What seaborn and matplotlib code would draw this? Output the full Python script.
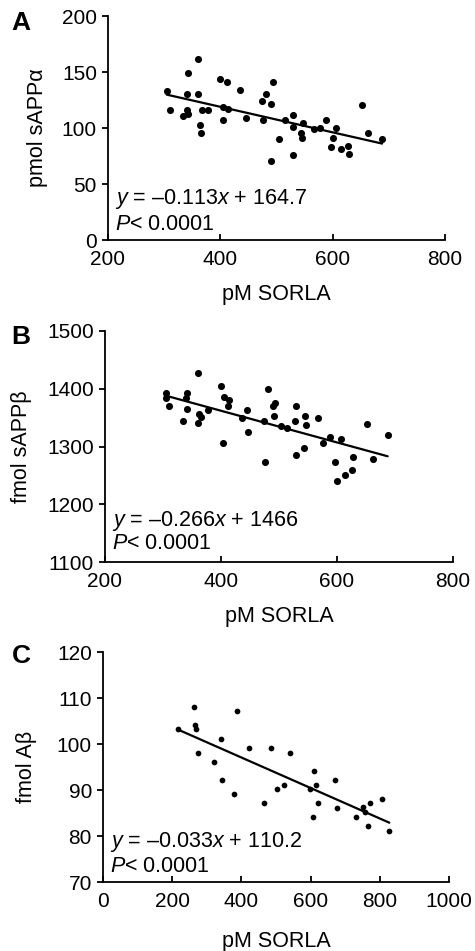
import matplotlib
matplotlib.use("Agg")
import matplotlib.pyplot as plt
import seaborn as sns
import pandas as pd

# ---- data ----
sorla_a = [304.5, 310, 343, 360, 340, 360, 341, 334, 342, 367, 378.5, 364, 365,
           399, 411, 435, 405, 414, 405, 446, 493, 481, 475, 490, 476.5, 504, 491,
           529, 515, 530, 546.5, 543.6, 545, 529, 567, 577, 587.5, 606, 601, 597,
           615, 627, 629, 651.7, 663, 688]
sappa = [132.6, 116.5, 149.5, 161.7, 130.5, 130.5, 115.7, 110.3, 112.7, 116.5, 115.7,
         102.3, 95.5, 143.5, 141.5, 134.3, 118.6, 117.2, 106.8, 109.2, 141.5, 130.5,
         123.7, 121.6, 106.8, 90.5, 70.6, 111.5, 107.4, 100.8, 104.7, 95.5, 91.4, 75.6,
         98.8, 99.9, 107.4, 99.6, 91.4, 83.4, 81.6, 83.6, 76.5, 120.7, 95.5, 90.5]

sorla_b = [304.7, 304.7, 311, 342, 339.7, 342, 335, 359.8, 362.6, 365, 360.9, 378,
           399.5, 405.7, 414.3, 411.6, 404, 444, 435.7, 447, 480.5, 493, 490, 491.4,
           474.7, 476.4, 503.4, 514.3, 529.3, 528, 544.8, 546.5, 567, 528.8, 543.6,
           576.4, 588, 606.4, 596.6, 600, 614.3, 626.4, 628, 651, 662.6, 687.4]
sappb = [1391.9, 1383.3, 1369.5, 1392.6, 1383.3, 1365, 1344.8, 1428, 1356.4, 1350.5,
         1340.2, 1363.8, 1405.2, 1385, 1380.5, 1370.2, 1306.4, 1363.8, 1348.8, 1325.9,
         1398.8, 1375.3, 1370.7, 1352.2, 1344.3, 1272.9, 1335.7, 1331.6, 1370.2, 1344.3,
         1352.2, 1337.4, 1350, 1284.5, 1297.8, 1306.9, 1317.2, 1313.3, 1273.6, 1240.9,
         1250.5, 1258.6, 1282.2, 1339.7, 1278.8, 1320.7]

sorla_c = [215.9, 263, 266, 268, 275.4, 341, 388, 321.7, 343, 377.7, 422, 485.5,
           539.6, 465.3, 502, 524, 610.7, 615.6, 598.3, 670.5, 622.3, 606, 675.4,
           732, 750.6, 758, 771.7, 806.4, 765, 827.5]
abeta = [103.2, 108.1, 104.1, 103.2, 98.1, 101.1, 107.2, 96.1, 92.1, 89.1, 99.1, 99.1,
         98.1, 87.1, 90.2, 91.1, 94.1, 91.1, 90.2, 92.1, 87.1, 84.1, 86.1, 84.1, 86.2,
         85.2, 87.1, 88.1, 82.1, 81.1]

panel_letters = ["A", "B", "C"]
ylabels = ["pmol sAPP\u03b1", "fmol sAPP\u03b2", "fmol A\u03b2"]
xlabel = "pM SORLA"
equations = ["$y$ = \u20130.113$x$ + 164.7", "$y$ = \u20130.266$x$ + 1466",
             "$y$ = \u20130.033$x$ + 110.2"]
ptext = "$P$< 0.0001"
xlims = [(200, 800), (200, 800), (0, 1000)]
xticks = [[200, 400, 600, 800], [200, 400, 600, 800], [0, 200, 400, 600, 800, 1000]]
ylims = [(0, 200), (1100, 1500), (70, 120)]
yticks = [[0, 50, 100, 150, 200], [1100, 1200, 1300, 1400, 1500],
          [70, 80, 90, 100, 110, 120]]

sns.set_theme(style="ticks")
plt.rcParams["font.family"] = ["Liberation Sans", "DejaVu Sans"]
plt.rcParams["mathtext.fontset"] = "custom"
plt.rcParams["mathtext.rm"] = "Liberation Sans"
plt.rcParams["mathtext.it"] = "Liberation Sans:italic"
for k in ["text.color", "axes.labelcolor", "xtick.color", "ytick.color",
          "xtick.labelcolor", "ytick.labelcolor", "axes.edgecolor"]:
    plt.rcParams[k] = "black"

fig = plt.figure(figsize=(4.75, 9.51), dpi=100)
W, H = 475, 951
# axes boxes in pixels: left, right, top, bottom
boxes = [(108, 445, 16, 240), (105, 453, 331, 562), (103, 449, 652, 882)]
ylab_x = [-0.178, -0.21, -0.191]
xlab_y = [-0.195, -0.19, -0.215]
txt_y = [(0.16, 0.045), (0.156, 0.056), (0.153, 0.045)]
letter_pos = [(21, 23), (21, 337), (21, 656)]
marker_s = [26, 26, 17]
fs_tick, fs_lab, fs_txt = 15, 15.5, 15.5

frames = [pd.DataFrame({"x": sorla_a, "y": sappa}),
          pd.DataFrame({"x": sorla_b, "y": sappb}),
          pd.DataFrame({"x": sorla_c, "y": abeta})]

for i, df in enumerate(frames):
    l, r, t, b = boxes[i]
    ax = fig.add_axes([l / W, 1 - b / H, (r - l) / W, (b - t) / H])
    sns.regplot(data=df, x="x", y="y", ax=ax, ci=None, color="black",
                scatter_kws={"s": marker_s[i], "linewidths": 0, "alpha": 1},
                line_kws={"lw": 1.6, "color": "black"})
    ax.set_xlim(*xlims[i])
    ax.set_ylim(*ylims[i])
    ax.set_xticks(xticks[i])
    ax.set_yticks(yticks[i])
    for s in ["top", "right"]:
        ax.spines[s].set_visible(False)
    for s in ["left", "bottom"]:
        ax.spines[s].set_linewidth(1.3)
        ax.spines[s].set_color("black")
    ax.tick_params(axis="x", direction="in", length=4, width=1.3, labelsize=fs_tick,
                   pad=7, colors="black")
    ax.tick_params(axis="y", direction="out", length=4, width=1.3, labelsize=fs_tick,
                   pad=4, colors="black")
    ax.set_xlabel(xlabel, fontsize=fs_lab, va="top", color="black")
    ax.set_ylabel(ylabels[i], fontsize=fs_lab, color="black")
    ax.xaxis.set_label_coords(0.5, xlab_y[i])
    ax.yaxis.set_label_coords(ylab_x[i], 0.5)
    ax.text(0.02, txt_y[i][0], equations[i], transform=ax.transAxes,
            fontsize=fs_txt, va="baseline", ha="left", color="black")
    ax.text(0.02, txt_y[i][1], ptext, transform=ax.transAxes,
            fontsize=fs_txt, va="baseline", ha="left", color="black")
    fig.text(letter_pos[i][0] / W, 1 - letter_pos[i][1] / H, panel_letters[i],
             fontsize=19, fontweight="bold", ha="center", va="center", color="black")

fig.savefig("out.png", dpi=100, facecolor="white")
